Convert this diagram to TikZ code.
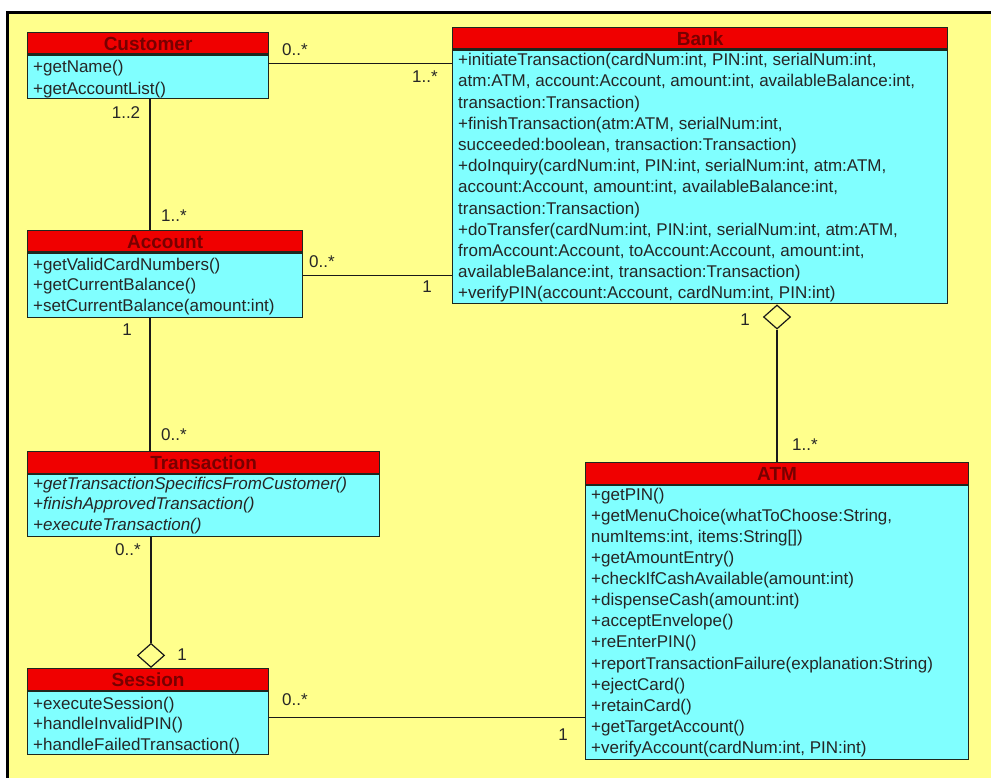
\documentclass[tikz,border=0pt]{standalone}
\usepackage{fontspec}
\setmainfont{Liberation Sans}
\usetikzlibrary{shapes.geometric}
\definecolor{bgy}{RGB}{255,255,140}
\definecolor{bodyc}{RGB}{128,255,255}
\definecolor{hdrc}{RGB}{240,0,0}
\definecolor{hdrtxt}{RGB}{120,0,0}
\definecolor{edgec}{RGB}{30,40,30}
\tikzset{
 hdr/.style={draw=edgec, line width=1.2pt, fill=hdrc, text=hdrtxt, inner sep=0pt,
   minimum height=21.5pt, text height=13.5pt, text depth=0pt,
   font=\fontsize{19}{19}\selectfont\bfseries},
 bdy/.style={draw=edgec, line width=1.2pt, fill=bodyc, inner sep=0pt},
 mtxt/.style={inner sep=0pt, font=\fontsize{17}{20}\selectfont, text=black!85},
 mult/.style={inner sep=0pt, font=\fontsize{17}{20}\selectfont, text=black!85},
 assoc/.style={draw=black!90, line width=1.2pt},
 aggd/.style={diamond, draw=black!90, line width=1.2pt, fill=bgy, inner sep=0pt,
   minimum width=27pt, minimum height=24pt},
}
% #1 name, #2 x, #3 y top, #4 width, #5 body height, #6 line spacing,
% #7 first baseline offset, #8 title, #9 lines
\newcommand\umlclass[9]{%
 \node[hdr, minimum width=#4pt, anchor=north west] (#1h) at (#2,#3) {#8};
 \node[bdy, minimum width=#4pt, minimum height=#5pt, anchor=north west] (#1) at (#1h.south west) {};
 \foreach \txt [count=\k] in {#9} {
   \node[mtxt, anchor=base west] (#1l\k) at ([xshift=6pt, yshift={-(#7+(\k-1)*#6)}]#1.north west) {\txt};
 }%
}
\begin{document}
\begin{tikzpicture}[x=1pt,y=-1pt]
\useasboundingbox (0,0) rectangle (991,778);
\fill[bgy] (7,12) rectangle (991,778);
\draw[line width=3pt] (7.5,778) -- (7.5,12.5) -- (991,12.5);

\umlclass{cust}{27}{32}{241}{43.5}{22}{17.5}{Customer}{{+getName()},{+getAccountList()}}
\umlclass{acc}{27}{230}{275}{64.5}{20.5}{17.5}{Account}{{+getValidCardNumbers()},{+getCurrentBalance()},{+setCurrentBalance(amount:int)}}
\umlclass{tra}{27}{451}{352}{62.5}{20.5}{15.5}{Transaction}{{\itshape +getTransactionSpecificsFromCustomer()},{\itshape +finishApprovedTransaction()},{\itshape +executeTransaction()}}
\umlclass{ses}{27}{668}{241}{63.5}{20.5}{18.5}{Session}{{+executeSession()},{+handleInvalidPIN()},{+handleFailedTransaction()}}
\umlclass{bank}{452}{27}{495}{253.5}{21.2}{16}{Bank}{{+initiateTransaction(cardNum:int, PIN:int, serialNum:int,},{atm:ATM, account:Account, amount:int, availableBalance:int,},{transaction:Transaction)},{+finishTransaction(atm:ATM, serialNum:int,},{succeeded:boolean, transaction:Transaction)},{+doInquiry(cardNum:int, PIN:int, serialNum:int, atm:ATM,},{account:Account, amount:int, availableBalance:int,},{transaction:Transaction)},{+doTransfer(cardNum:int, PIN:int, serialNum:int, atm:ATM,},{fromAccount:Account, toAccount:Account, amount:int,},{availableBalance:int, transaction:Transaction)},{+verifyPIN(account:Account, cardNum:int, PIN:int)}}
\umlclass{atm}{585}{462}{383}{274.5}{21.1}{15.5}{ATM}{{+getPIN()},{+getMenuChoice(whatToChoose:String,},{numItems:int, items:String[])},{+getAmountEntry()},{+checkIfCashAvailable(amount:int)},{+dispenseCash(amount:int)},{+acceptEnvelope()},{+reEnterPIN()},{+reportTransactionFailure(explanation:String)},{+ejectCard()},{+retainCard()},{+getTargetAccount()},{+verifyAccount(cardNum:int, PIN:int)}}

% associations
\draw[assoc] ([yshift=-8.5pt]cust.north east) coordinate (cb1) -- (cb1 -| bank.west);
\draw[assoc] ([yshift=-22.5pt]acc.north east) coordinate (ab1) -- (ab1 -| bank.west);
\draw[assoc] ([xshift=123pt]cust.south west) coordinate (ca1) -- (ca1 |- acch.north);
\draw[assoc] ([xshift=123pt]acc.south west) coordinate (at1) -- (at1 |- trah.north);
\node[aggd, anchor=south] (d1) at ([xshift=124pt]sesh.north west) {};
\draw[assoc] (d1.north) -- (d1.north |- tra.south);
\draw[assoc] ([yshift=-26.5pt]ses.north east) coordinate (sa1) -- (sa1 -| atm.west);
\node[aggd, anchor=north] (d2) at ([xshift=325pt]bank.south west) {};
\draw[assoc] (d2.south) -- (d2.south |- atmh.north);

% multiplicities
\node[mult] (m1) at (295,50) {0..*};
\node[mult] (m2) at (425,77) {1..*};
\node[mult] (m3) at (126,113) {1..2};
\node[mult] (m4) at (174,216) {1..*};
\node[mult] (m5) at (322,262) {0..*};
\node[mult] (m6) at (427,287) {1};
\node[mult] (m7) at (127,330) {1};
\node[mult] (m8) at (174,435) {0..*};
\node[mult] (m9) at (128,550) {0..*};
\node[mult] (m10) at (182,655) {1};
\node[mult] (m11) at (295,700) {0..*};
\node[mult] (m12) at (563,735) {1};
\node[mult] (m13) at (745,320) {1};
\node[mult] (m14) at (805,445) {1..*};
\end{tikzpicture}
\end{document}
